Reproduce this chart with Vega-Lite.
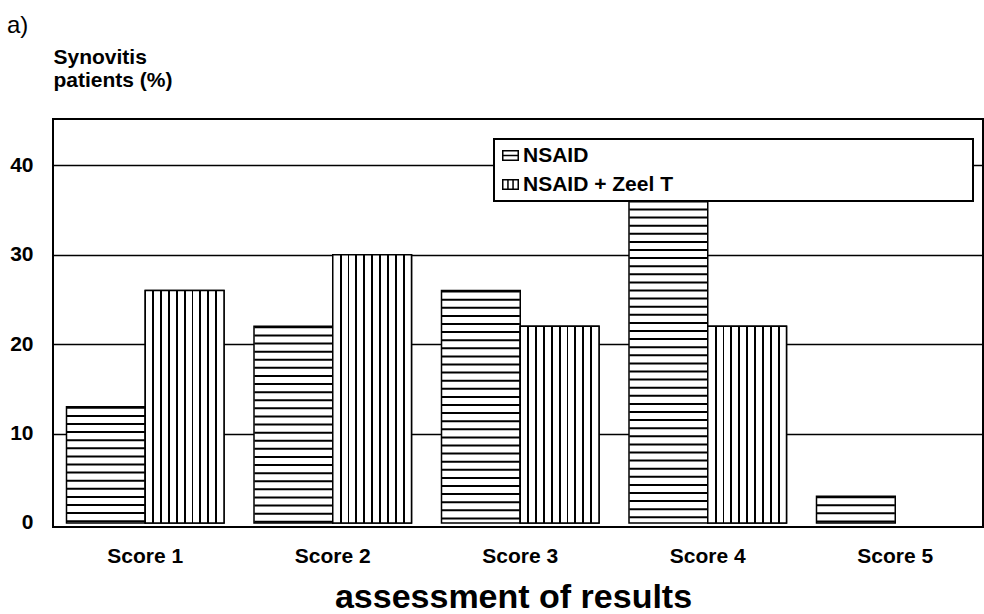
{
  "$schema": "https://vega.github.io/schema/vega-lite/v6.json",
  "width": 930,
  "height": 408,
  "autosize": "none",
  "padding": {"left": 53, "top": 119, "right": 1, "bottom": 87},
  "background": "white",
  "title": {"text": "a)", "anchor": "start", "frame": "group", "fontSize": 24, "fontWeight": "normal", "color": "black", "dx": -46, "offset": 8},
  "data": {
    "values": [
      {"score": "Score 1", "series": "NSAID", "value": 13},
      {"score": "Score 1", "series": "NSAID + Zeel T", "value": 26},
      {"score": "Score 2", "series": "NSAID", "value": 22},
      {"score": "Score 2", "series": "NSAID + Zeel T", "value": 30},
      {"score": "Score 3", "series": "NSAID", "value": 26},
      {"score": "Score 3", "series": "NSAID + Zeel T", "value": 22},
      {"score": "Score 4", "series": "NSAID", "value": 37},
      {"score": "Score 4", "series": "NSAID + Zeel T", "value": 22},
      {"score": "Score 5", "series": "NSAID", "value": 3},
      {"score": "Score 5", "series": "NSAID + Zeel T", "value": 0}
    ]
  },
  "encoding": {
    "x": {
      "field": "score", "type": "nominal", "sort": null,
      "scale": {"paddingInner": 0.16, "paddingOuter": 0.06, "align": 0.6},
      "title": "assessment of results",
      "axis": {"labelAngle": 0, "labelFontSize": 21, "labelFontWeight": "bold", "labelPadding": 18, "tickSize": 0, "domain": false, "grid": false, "titleFontSize": 34, "titleFontWeight": "bold", "titlePadding": 14, "titleX": 460, "labelColor": "black", "titleColor": "black"}
    },
    "xOffset": {"field": "series", "type": "nominal", "scale": {"domain": ["NSAID", "NSAID + Zeel T"], "paddingInner": 0, "paddingOuter": 0}},
    "y": {
      "field": "value", "type": "quantitative",
      "scale": {"domain": [-0.45, 45.2], "nice": false, "zero": false},
      "title": ["Synovitis", "patients (%)"],
      "axis": {
        "values": [0, 10, 20, 30, 40], "grid": true, "gridColor": "black", "gridWidth": 1.5,
        "gridOpacity": {"condition": {"test": "datum.value === 0", "value": 0}, "value": 1},
        "tickSize": 0, "domain": false, "labelFontSize": 21, "labelFontWeight": "bold", "labelPadding": 20, "labelColor": "black",
        "titleAngle": 0, "titleAlign": "left", "titleX": 0, "titleY": -56, "titleBaseline": "alphabetic",
        "titleFontSize": 21, "titleFontWeight": "bold", "titleLineHeight": 23, "titleColor": "black"
      }
    }
  },
  "layer": [
    {
      "mark": {"type": "bar", "stroke": "black"},
      "encoding": {
        "fill": {
          "field": "series", "type": "nominal",
          "scale": {"range": ["white", "white"]},
          "legend": {
            "orient": "none", "legendX": 441, "legendY": 20, "title": null, "direction": "vertical",
            "labelFontSize": 21, "labelFontWeight": "bold", "labelColor": "black", "labelLimit": 2000,
            "labelExpr": "datum.label + '\u2003\u2003\u2003\u2003\u2003\u2003\u2003\u2003\u2003\u2003\u2003\u2003\u2003\u2003\u200b'",
            "strokeColor": "black", "fillColor": "white", "padding": 6, "rowPadding": 7, "labelOffset": 2,
            "symbolSize": 240, "symbolStrokeWidth": 1.5, "symbolFillColor": "white", "symbolStrokeColor": "black",
            "symbolType": {"expr": "datum.value === 'NSAID' ? 'M-1,-0.6H1V0.6H-1Z M-1,0H1' : 'M-1,-0.6H1V0.6H-1Z M-0.33,-0.6V0.6 M0.33,-0.6V0.6'"},
            "encode": {
              "legend": {"update": {"strokeWidth": {"value": 2}}},
              "symbols": {"update": {"fill": {"value": "white"}, "stroke": {"value": "black"}, "strokeWidth": {"value": 1.5}, "opacity": {"value": 1}}}
            }
          }
        },
        "strokeWidth": {"condition": {"test": "datum.value === 0", "value": 0}, "value": 1.5}
      }
    },
    {
      "transform": [{"filter": "datum.series === 'NSAID + Zeel T' && datum.value > 0"}],
      "mark": {
        "type": "bar", "stroke": "black", "strokeWidth": 1.5,
        "fill": {
          "gradient": "linear", "x1": 0, "y1": 0, "x2": 1, "y2": 0,
          "stops": [
            {"offset": 0, "color": "white"},
            {"offset": 0.0875, "color": "white"}, {"offset": 0.0875, "color": "black"}, {"offset": 0.1125, "color": "black"}, {"offset": 0.1125, "color": "white"},
            {"offset": 0.1875, "color": "white"}, {"offset": 0.1875, "color": "black"}, {"offset": 0.2125, "color": "black"}, {"offset": 0.2125, "color": "white"},
            {"offset": 0.2875, "color": "white"}, {"offset": 0.2875, "color": "black"}, {"offset": 0.3125, "color": "black"}, {"offset": 0.3125, "color": "white"},
            {"offset": 0.3875, "color": "white"}, {"offset": 0.3875, "color": "black"}, {"offset": 0.4125, "color": "black"}, {"offset": 0.4125, "color": "white"},
            {"offset": 0.4875, "color": "white"}, {"offset": 0.4875, "color": "black"}, {"offset": 0.5125, "color": "black"}, {"offset": 0.5125, "color": "white"},
            {"offset": 0.5875, "color": "white"}, {"offset": 0.5875, "color": "black"}, {"offset": 0.6125, "color": "black"}, {"offset": 0.6125, "color": "white"},
            {"offset": 0.6875, "color": "white"}, {"offset": 0.6875, "color": "black"}, {"offset": 0.7125, "color": "black"}, {"offset": 0.7125, "color": "white"},
            {"offset": 0.7875, "color": "white"}, {"offset": 0.7875, "color": "black"}, {"offset": 0.8125, "color": "black"}, {"offset": 0.8125, "color": "white"},
            {"offset": 0.8875, "color": "white"}, {"offset": 0.8875, "color": "black"}, {"offset": 0.9125, "color": "black"}, {"offset": 0.9125, "color": "white"},
            {"offset": 1, "color": "white"}
          ]
        }
      }
    },
    {
      "transform": [{"filter": "datum.series === 'NSAID'"}],
      "mark": {"type": "rule", "color": "black", "strokeWidth": 78, "strokeDash": [2, 6.1], "strokeCap": "butt"},
      "encoding": {"y2": {"datum": 0}}
    }
  ],
  "config": {
    "font": "Liberation Sans",
    "view": {"stroke": "black", "strokeWidth": 2}
  }
}
